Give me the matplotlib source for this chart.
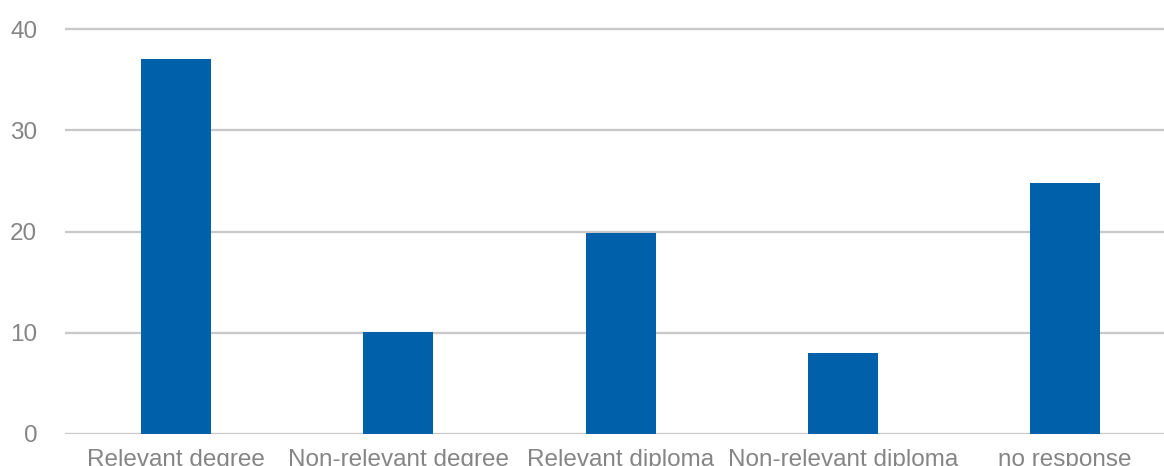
import matplotlib
matplotlib.use("Agg")
import matplotlib.pyplot as plt

categories = ["Relevant degree", "Non-relevant degree", "Relevant diploma",
              "Non-relevant diploma", "no response"]
values = [37, 10.1, 19.9, 8, 24.8]
y_ticks = [0, 10, 20, 30, 40]

BAR_COLOR = "#0060AA"
GRID_COLOR = "#C8C8C8"
TEXT_COLOR = "#858585"

plt.rcParams["font.family"] = ["Liberation Sans", "DejaVu Sans"]

fig = plt.figure(figsize=(11.64, 4.66), dpi=100)
# axes deliberately runs past the right edge, like the cropped original
ax = fig.add_axes([65 / 1164, 32 / 466, 1111.25 / 1164, 425.25 / 466])

x = range(len(categories))
ax.bar(x, values, width=0.315, color=BAR_COLOR, zorder=3)

ax.set_xlim(-0.5, len(categories) - 0.5)
ax.set_ylim(0, 42)
ax.set_yticks(y_ticks)
ax.set_xticks(list(x))
ax.set_xticklabels(categories)

ax.yaxis.grid(True, color=GRID_COLOR, linewidth=1.6, zorder=0)
ax.set_axisbelow(True)
for spine in ax.spines.values():
    spine.set_visible(False)

ax.tick_params(axis="both", length=0, colors=TEXT_COLOR, labelsize=17.5)
ax.tick_params(axis="x", pad=11)
ax.tick_params(axis="y", pad=20)

fig.savefig("out.png", dpi=100)
